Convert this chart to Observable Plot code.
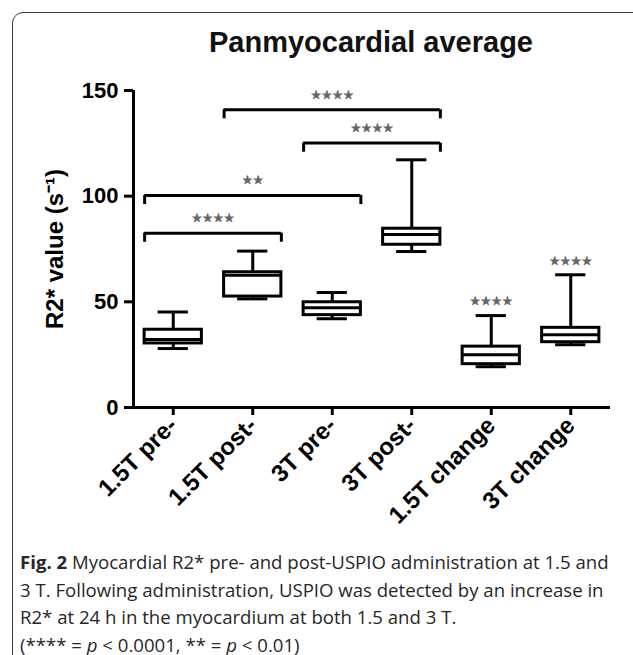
<!DOCTYPE html>
<html>
<head>
<meta charset="utf-8">
<script src="https://cdn.jsdelivr.net/npm/d3@7"></script>
<script src="https://cdn.jsdelivr.net/npm/@observablehq/plot@0.6"></script>
<style>
  html, body { margin: 0; padding: 0; background: #fff; }
  #page { position: relative; width: 633px; height: 655px; overflow: hidden; background: #fff; }
  #frame { position: absolute; left: 12px; top: 12px; width: 700px; height: 700px;
           border: 1.5px solid #3a3a3a; border-radius: 11px; box-sizing: border-box; }
  #title { position: absolute; left: 121px; top: 26px; width: 500px; text-align: center;
           font-family: "Liberation Sans", Arial, sans-serif; font-weight: bold; font-size: 29px; color: #111; }
  #chart { position: absolute; left: 0; top: 0; }
  #caption { position: absolute; left: 20px; top: 548px; width: 612px;
             font-family: "Open Sans", Lato, sans-serif; font-size: 18.6px; line-height: 27.5px; color: #2a2627; white-space: nowrap; }
  #caption b { font-weight: bold; }
</style>
</head>
<body>
<div id="page">
  <div id="frame"></div>
  <div id="title">Panmyocardial average</div>
  <div id="chart"></div>
  <div id="caption">
    <b>Fig. 2</b> Myocardial R2* pre- and post-USPIO administration at 1.5 and<br>
    3 T. Following administration, USPIO was detected by an increase in<br>
    R2* at 24 h in the myocardium at both 1.5 and 3 T.<br>
    (**** = <i>p</i> &lt; 0.0001, ** = <i>p</i> &lt; 0.01)
  </div>
</div>
<script>
// ---- data ----
const categories = ["1.5T pre-", "1.5T post-", "3T pre-", "3T post-", "1.5T change", "3T change"];
const whiskerLow  = [27.9, 51.4, 42.0, 73.8, 19.3, 29.7];
const q1          = [30.3, 52.5, 43.7, 77.0, 20.5, 30.9];
const median      = [32.2, 62.6, 47.2, 81.9, 25.0, 34.4];
const q3          = [36.8, 64.0, 49.8, 84.6, 28.8, 37.7];
const whiskerHigh = [45.2, 74.0, 54.4, 117.2, 43.5, 62.8];
const changeStars = ["", "", "", "", "****", "****"];

const bracketFrom  = ["1.5T pre-", "1.5T pre-", "1.5T post-", "3T pre-"];
const bracketTo    = ["1.5T post-", "3T pre-", "3T post-", "3T post-"];
const bracketLevel = [82.5, 100.3, 140.9, 125.1];
const bracketStars = ["****", "**", "****", "****"];

const yTicks = [0, 50, 100, 150];
const yLabel = "R2* value (s\u207B\u00B9)";

// ---- tables built from the arrays ----
const boxes = categories.map((c, i) => ({
  i, c, lo: whiskerLow[i], q1: q1[i], med: median[i], q3: q3[i], hi: whiskerHigh[i], stars: changeStars[i]
}));
const half = 0.36, cap = 0.19, tick = 4.3;
const brackets = bracketLevel.map((y, k) => {
  const a = categories.indexOf(bracketFrom[k]) - half;
  const b = categories.indexOf(bracketTo[k]) + half;
  return { a, b, y, stars: bracketStars[k], mid: (a + b) / 2 };
});
const bracketTicks = brackets.flatMap(d => [{x: d.a, y: d.y}, {x: d.b, y: d.y}]);

const star = s => s.replace(/\*/g, "\u2605");

const chart = Plot.plot({
  width: 633,
  height: 540,
  marginLeft: 133,
  marginRight: 23,
  marginTop: 90,
  marginBottom: 133,
  x: { domain: [-0.5, 5.5] },
  y: { domain: [0, 150] },
  style: { fontFamily: "'Liberation Sans', Arial, sans-serif", fontWeight: "bold", fontSize: "22px", color: "#000", background: "transparent", overflow: "visible" },
  marks: [
    // axes
    Plot.axisY({ ticks: yTicks, tickSize: 9, tickPadding: 6, strokeWidth: 3, label: null, fontSize: 22 }),
    Plot.axisX({ ticks: d3.range(categories.length), tickFormat: i => categories[i], tickRotate: -45,
                 tickSize: 8, tickPadding: 6, strokeWidth: 3, label: null, fontSize: 24 }),
    Plot.ruleX([-0.5], { y1: 0, y2: 150, strokeWidth: 3 }),
    Plot.ruleY([0], { x1: -0.5, x2: 5.5, strokeWidth: 3 }),
    Plot.text([yLabel], { frameAnchor: "left", textAnchor: "middle", dx: -78, rotate: -90, fontSize: 24, fontWeight: "bold" }),
    // whiskers
    Plot.ruleX(boxes, { x: "i", y1: "q3", y2: "hi", strokeWidth: 3 }),
    Plot.ruleX(boxes, { x: "i", y1: "lo", y2: "q1", strokeWidth: 3 }),
    Plot.ruleY(boxes, { y: "hi", x1: d => d.i - cap, x2: d => d.i + cap, strokeWidth: 3 }),
    Plot.ruleY(boxes, { y: "lo", x1: d => d.i - cap, x2: d => d.i + cap, strokeWidth: 3 }),
    // boxes
    Plot.rect(boxes, { x1: d => d.i - half, x2: d => d.i + half, y1: "q1", y2: "q3", fill: "white", stroke: "black", strokeWidth: 3 }),
    Plot.ruleY(boxes, { y: "med", x1: d => d.i - half, x2: d => d.i + half, strokeWidth: 3 }),
    // significance brackets
    Plot.ruleY(brackets, { y: "y", x1: "a", x2: "b", strokeWidth: 3 }),
    Plot.ruleX(bracketTicks, { x: "x", y1: "y", y2: d => d.y - tick, strokeWidth: 3 }),
    Plot.text(brackets, { x: "mid", y: "y", dy: -15, text: d => star(d.stars), fill: "#666", stroke: "#444", strokeWidth: 0.4,
                          fontSize: 12, fontWeight: "normal", fontFamily: "DejaVu Sans" }),
    Plot.text(boxes.filter(d => d.stars), { x: "i", y: "hi", dy: -14, text: d => star(d.stars), fill: "#666", stroke: "#444", strokeWidth: 0.4,
                          fontSize: 12, fontWeight: "normal", fontFamily: "DejaVu Sans" })
  ]
});
document.getElementById("chart").appendChild(chart);
</script>
</body>
</html>
